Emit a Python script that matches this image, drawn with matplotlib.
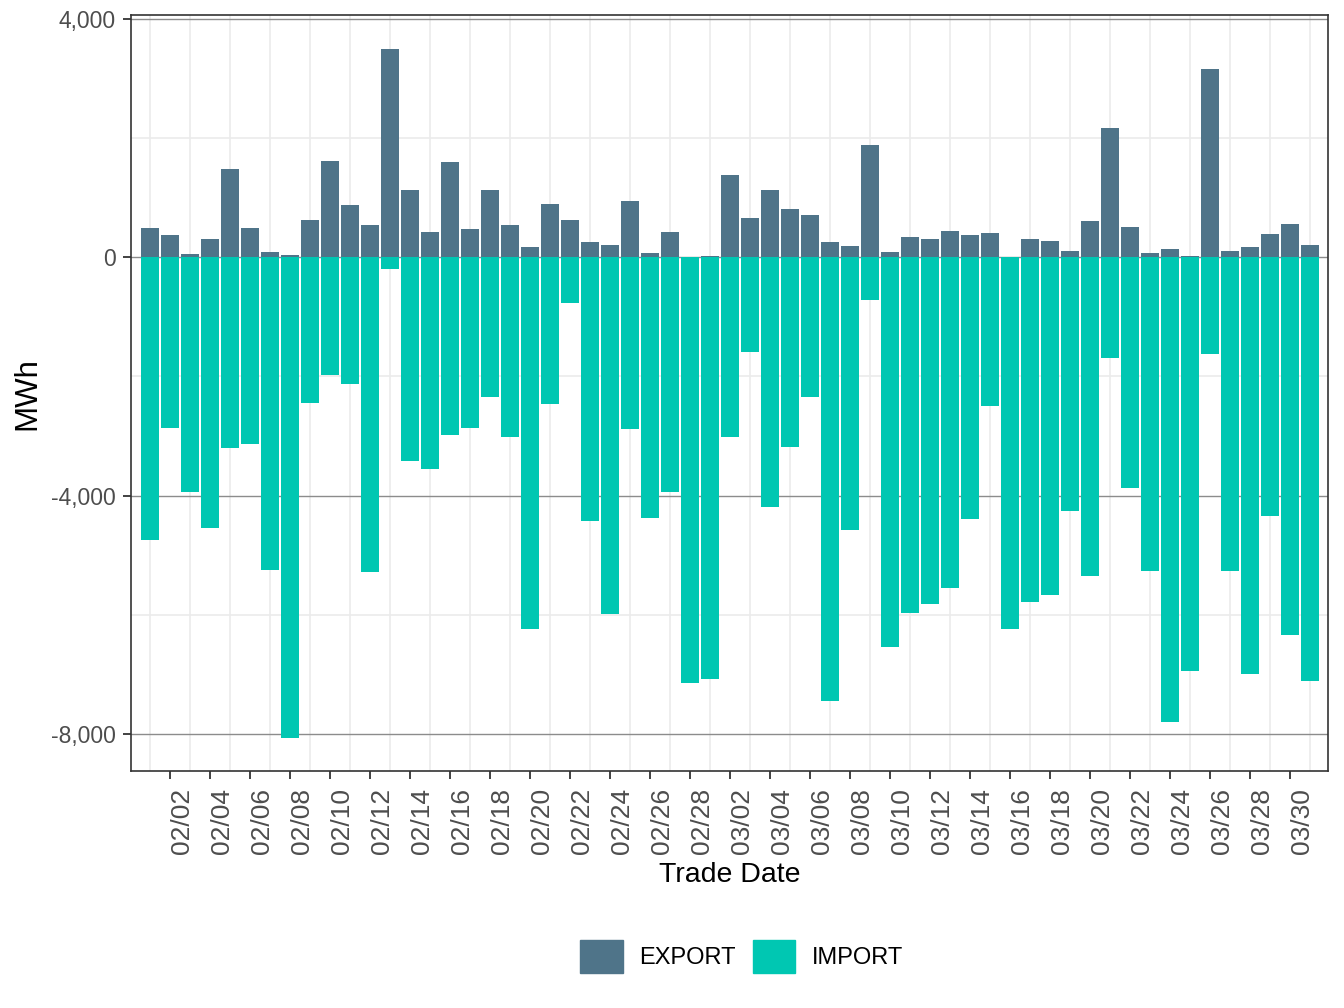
import numpy as np
import pandas as pd
import matplotlib
matplotlib.use("Agg")
import matplotlib.pyplot as plt
import matplotlib.dates as mdates
import matplotlib.transforms as mtransforms
from matplotlib.patches import Patch

plt.rcParams['font.family'] = ['Liberation Sans', 'DejaVu Sans']

dates = pd.date_range("2023-02-01", "2023-03-31", freq="D")

export_mwh = [490, 369, 50, 302, 1475, 486, 84, 34, 620, 1609,
              871, 536, 3486, 1123, 419, 1592, 469, 1123, 536, 168,
              888, 620, 251, 201, 939, 67, 419, 0, 17, 1374,
              654, 1123, 804, 704, 251, 184, 1877, 84, 335, 302,
              436, 369, 402, 0, 302, 268, 101, 603, 2162, 503,
              67, 134, 17, 3151, 101, 168, 385, 553, 201]

import_mwh = [-4748, -2869, -3943, -4547, -3205, -3138, -5252, -8070, -2450, -1980,
              -2131, -5285, -201, -3423, -3557, -2987, -2869, -2349, -3020, -6242,
              -2466, -772, -4430, -5990, -2886, -4379, -3943, -7148, -7081, -3020,
              -1594, -4195, -3188, -2349, -7450, -4581, -721, -6544, -5973, -5822,
              -5554, -4396, -2500, -6242, -5789, -5671, -4262, -5352, -1695, -3876,
              -5268, -7802, -6946, -1628, -5268, -6997, -4346, -6342, -7114]

export_color = "#4F7489"
import_color = "#00C7B2"

fig = plt.figure(figsize=(13.44, 10.08), dpi=100)
ax = fig.add_axes([0.0975, 0.235, 0.8905, 0.75])

x = mdates.date2num(dates)
ax.bar(x, export_mwh, width=0.9, color=export_color, zorder=3)
ax.bar(x, import_mwh, width=0.9, color=import_color, zorder=3)

# grid
for d in x[::2]:
    ax.axvline(d, color="#EBEBEB", lw=1.2, zorder=1)
for yv in [2000, -2000, -6000]:
    ax.axhline(yv, color="#EBEBEB", lw=1.2, zorder=1)
for yv in [4000, 0, -4000, -8000]:
    ax.axhline(yv, color="#8C8C8C", lw=1.0, zorder=2)

ax.set_xlim(x[0] - 0.95, x[-1] + 0.9)
ax.set_ylim(-8620, 4060)

ax.set_yticks([4000, 0, -4000, -8000])
ax.set_yticklabels(["4,000", "0", "-4,000", "-8,000"])
ax.set_xticks(x[1::2])
ax.set_xticklabels([d.strftime("%m/%d") for d in dates[1::2]], rotation=90)

ax.tick_params(axis="both", colors="#333333", labelcolor="#4D4D4D",
               length=6, width=1.3)
ax.tick_params(axis="x", pad=6, labelsize=19)
ax.tick_params(axis="y", pad=5, labelsize=16.5)
shift = mtransforms.ScaledTranslation(12 / 100, 0, fig.dpi_scale_trans)
for lab in ax.get_xticklabels():
    lab.set_transform(lab.get_transform() + shift)
for s in ax.spines.values():
    s.set_color("#333333")
    s.set_linewidth(1.2)

ax.set_xlabel("Trade Date", fontsize=20.5, labelpad=6)
ax.set_ylabel("MWh", fontsize=22.5, labelpad=6)

handles = [Patch(color=export_color, label="EXPORT"),
           Patch(color=import_color, label="IMPORT")]
fig.legend(handles=handles, loc="center", bbox_to_anchor=(0.552, 0.051),
           ncol=2, frameon=False, fontsize=17, handlelength=1.78,
           handleheight=1.78, handletextpad=0.72, columnspacing=0.72)

fig.savefig("out.png", dpi=100)
